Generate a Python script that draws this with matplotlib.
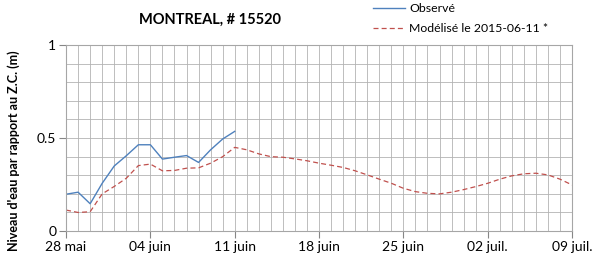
import datetime as dt
import matplotlib
matplotlib.use("Agg")
import matplotlib.pyplot as plt
import matplotlib.dates as mdates
from matplotlib.ticker import MultipleLocator

start = dt.date(2015, 5, 28)

obs_days = list(range(15))
obs_vals = [0.198, 0.209, 0.147, 0.257, 0.35, 0.405, 0.464, 0.464, 0.387, 0.397,
            0.406, 0.369, 0.437, 0.495, 0.536]

mod_days = list(range(43))
mod_vals = [0.113, 0.10, 0.104, 0.20, 0.24, 0.284, 0.352, 0.36, 0.324, 0.326,
            0.338, 0.34, 0.365, 0.40, 0.45, 0.437, 0.415, 0.40, 0.397, 0.388,
            0.378, 0.365, 0.354, 0.342, 0.324, 0.302, 0.279, 0.257, 0.23, 0.212,
            0.203, 0.20, 0.209, 0.223, 0.239, 0.257, 0.279, 0.297, 0.308, 0.311,
            0.302, 0.279, 0.248]

tick_labels = ["28 mai", "04 juin", "11 juin", "18 juin", "25 juin", "02 juil.", "09 juil."]

plt.rcParams['font.family'] = ['Lato', 'DejaVu Sans']

def to_dates(days):
    return [start + dt.timedelta(days=d) for d in days]

fig = plt.figure(figsize=(6.06, 2.65), dpi=100)
ax = fig.add_axes([0.109, 0.128, 0.835, 0.702])

ax.plot(to_dates(obs_days), obs_vals, color="#4F81BD", lw=1.0, label="Observé")
ax.plot(to_dates(mod_days), mod_vals, color="#C0504D", lw=0.9, ls=(0, (4, 2.5)),
        label="Modélisé le 2015-06-11 *")

ax.set_xlim(start, start + dt.timedelta(days=42))
ax.set_ylim(0, 1)
ax.set_xticks(to_dates(range(0, 43, 7)))
ax.set_xticklabels(tick_labels)
ax.xaxis.set_minor_locator(mdates.DayLocator())
ax.set_yticks([0, 0.5, 1])
ax.set_yticklabels(["0", "0.5", "1"])
ax.yaxis.set_minor_locator(MultipleLocator(0.1))

ax.grid(True, which="both", color="#B3B3B3", lw=0.6)
ax.set_axisbelow(True)
for s in ax.spines.values():
    s.set_color("#A6A6A6")
    s.set_linewidth(0.8)
ax.tick_params(which="major", length=5, color="#868686", labelsize=10, pad=2)
ax.tick_params(which="minor", length=0)

ax.set_ylabel("Niveau d'eau par rapport au Z.C. (m)", fontsize=9, fontweight="bold")
ax.yaxis.set_label_coords(-0.092, 0.43)
fig.text(0.346, 0.925, "MONTREAL, # 15520", fontsize=10.5, fontweight="bold", ha="center", va="center")

fig.legend(loc="upper left", bbox_to_anchor=(0.597, 1.03), frameon=False, fontsize=8.8,
           handlelength=2.6, labelspacing=0.75, handletextpad=0.4)

fig.savefig("out.png", dpi=100)
